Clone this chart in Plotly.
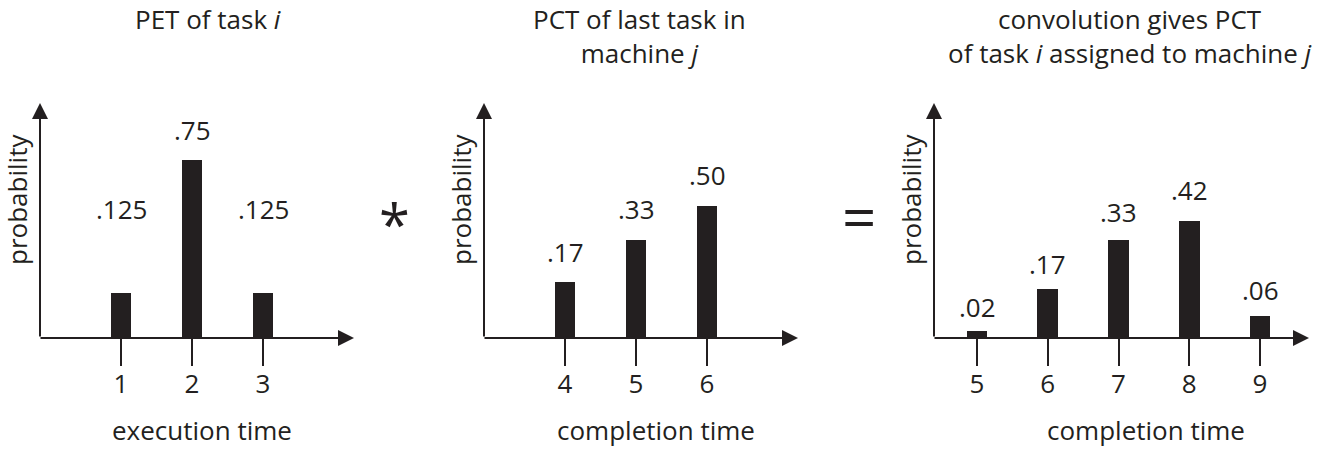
import plotly.graph_objects as go

W, H = 1332, 449
INK = "#231f20"
FONT = "Open Sans"
FS = 26

# ---------------- data ----------------
pet_times = [1, 2, 3]
pet_heights = [0.19, 0.75, 0.19]          # drawn bar heights (illustrative, as in the figure)
pet_labels = [".125", ".75", ".125"]

pct_times = [4, 5, 6]
pct_heights = [0.236, 0.413, 0.556]
pct_labels = [".17", ".33", ".50"]

conv_times = [5, 6, 7, 8, 9]
conv_heights = [0.03, 0.206, 0.413, 0.493, 0.093]
conv_labels = [".02", ".17", ".33", ".42", ".06"]

titles = ["PET of task <i>i</i>",
          "PCT of last task in<br>machine <i>j</i>",
          "convolution gives PCT<br>of task <i>i</i> assigned to machine <i>j</i>"]
xtitles = ["execution time", "completion time", "completion time"]
ytitle = "probability"
operators = ["*", "="]

# ---------------- layout geometry (pixels) ----------------
Y_BASE, Y_TOP = 338, 103
K = 0.75 / 178.0                      # data units per pixel vertically
panels = [
    dict(times=pet_times, heights=pet_heights, labels=pet_labels,
         ox=40, tx=354, c0=121, s=71.0, shifts=[84, 30, 84],
         title_x=208, xt_x=202, yt_x=17),
    dict(times=pct_times, heights=pct_heights, labels=pct_labels,
         ox=484, tx=798, c0=565, s=71.0, shifts=[30, 31, 31],
         title_x=639, xt_x=656, yt_x=461),
    dict(times=conv_times, heights=conv_heights, labels=conv_labels,
         ox=934, tx=1309, c0=977, s=70.75, shifts=[24, 25, 28, 31, 26],
         title_x=1130, xt_x=1146, yt_x=911),
]
PAD = 4


def px(p):
    return p / W


def py(p):
    return 1 - p / H


def ydata(p):
    return (Y_BASE - p) * K


fig = go.Figure()
annotations = []
layout_axes = {}

for i, pnl in enumerate(panels):
    n = "" if i == 0 else str(i + 1)
    v0 = pnl["times"][0]

    def xdata(p, pnl=pnl, v0=v0):
        return v0 + (p - pnl["c0"]) / pnl["s"]

    xa, ya = "x" + n, "y" + n
    fig.add_trace(go.Bar(x=pnl["times"], y=pnl["heights"], width=0.29,
                         marker=dict(color=INK, line=dict(width=0)),
                         xaxis=xa, yaxis=ya, hoverinfo="skip", showlegend=False))

    layout_axes["xaxis" + n] = dict(
        domain=[px(pnl["ox"] - PAD), px(pnl["tx"] + PAD)],
        range=[xdata(pnl["ox"] - PAD), xdata(pnl["tx"] + PAD)],
        anchor=ya, showgrid=False, zeroline=False, showline=False,
        ticks="outside", ticklen=27, tickwidth=2, tickcolor=INK,
        ticklabelstandoff=-4,
        tickvals=pnl["times"], ticktext=[str(t) for t in pnl["times"]],
        tickfont=dict(family=FONT, size=FS, color=INK), fixedrange=True)
    layout_axes["yaxis" + n] = dict(
        domain=[py(Y_BASE), py(Y_TOP - PAD)],
        range=[0, ydata(Y_TOP - PAD)],
        anchor=xa, visible=False, fixedrange=True)

    # axis arrows
    annotations.append(dict(xref=xa, yref=ya, axref=xa, ayref=ya,
                            x=xdata(pnl["tx"]), y=0, ax=xdata(pnl["ox"] - 1), ay=0,
                            text="", showarrow=True, arrowhead=2, arrowsize=1.6,
                            arrowwidth=2, arrowcolor=INK, standoff=0, startstandoff=0))
    annotations.append(dict(xref=xa, yref=ya, axref=xa, ayref=ya,
                            x=xdata(pnl["ox"]), y=ydata(Y_TOP), ax=xdata(pnl["ox"]), ay=0,
                            text="", showarrow=True, arrowhead=2, arrowsize=1.6,
                            arrowwidth=2, arrowcolor=INK, standoff=0, startstandoff=0))

    # value labels
    for t, h, lab, sh in zip(pnl["times"], pnl["heights"], pnl["labels"], pnl["shifts"]):
        annotations.append(dict(xref=xa, yref=ya, x=t, y=h, text=lab, showarrow=False,
                                yanchor="middle", yshift=sh,
                                font=dict(family=FONT, size=FS, color=INK)))

    # titles
    annotations.append(dict(xref="paper", yref="paper", x=px(pnl["title_x"]), y=1.0,
                            xanchor="center", yanchor="top", borderpad=0, text=titles[i],
                            showarrow=False, font=dict(family=FONT, size=FS, color=INK)))
    annotations.append(dict(xref="paper", yref="paper", x=px(pnl["xt_x"]), y=0.0,
                            xanchor="center", yanchor="bottom", borderpad=0, text=xtitles[i],
                            showarrow=False, font=dict(family=FONT, size=FS, color=INK)))
    annotations.append(dict(xref="paper", yref="paper", x=px(pnl["yt_x"]), y=py(200),
                            xanchor="center", yanchor="middle", text=ytitle, showarrow=False,
                            textangle=-90, font=dict(family=FONT, size=FS, color=INK)))

# operators
annotations.append(dict(xref="paper", yref="paper", x=px(394), y=py(223),
                        xanchor="center", yanchor="middle", text=operators[0], showarrow=False,
                        font=dict(family=FONT, size=56, color=INK)))
annotations.append(dict(xref="paper", yref="paper", x=px(859), y=py(216),
                        xanchor="center", yanchor="middle", text=operators[1], showarrow=False,
                        font=dict(family=FONT, size=60, color=INK)))

fig.update_layout(width=W, height=H, margin=dict(l=0, r=0, t=0, b=0),
                  paper_bgcolor="white", plot_bgcolor="white",
                  bargap=0, showlegend=False, annotations=annotations,
                  font=dict(family=FONT, color=INK), **layout_axes)

fig.write_html("out.html")
